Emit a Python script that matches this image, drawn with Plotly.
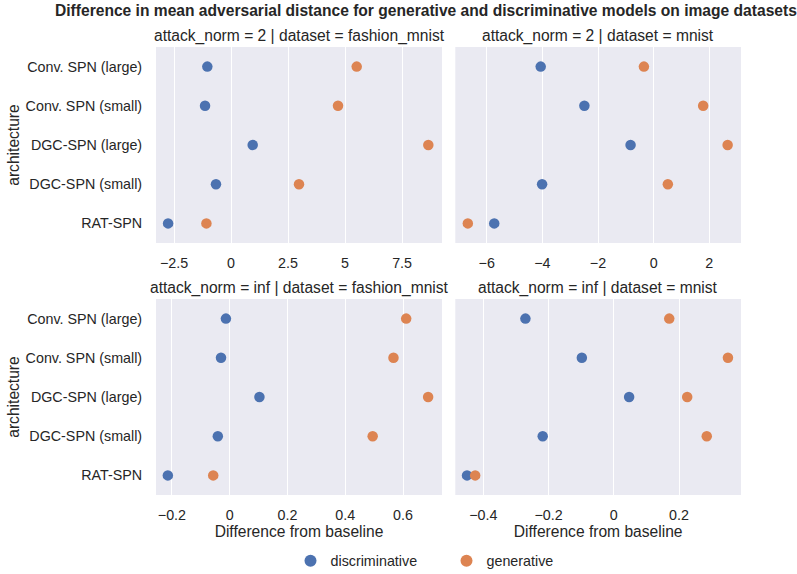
import plotly.graph_objects as go

architectures = ["Conv. SPN (large)", "Conv. SPN (small)", "DGC-SPN (large)", "DGC-SPN (small)", "RAT-SPN"]

# attack_norm = 2
disc_l2_fashion = [-1.04, -1.14, 0.95, -0.66, -2.76]
gen_l2_fashion = [5.51, 4.69, 8.65, 2.98, -1.08]
disc_l2_mnist = [-4.06, -2.49, -0.83, -4.01, -5.73]
gen_l2_mnist = [-0.35, 1.78, 2.66, 0.51, -6.68]
# attack_norm = inf
disc_inf_fashion = [-0.013, -0.030, 0.103, -0.041, -0.214]
gen_inf_fashion = [0.611, 0.567, 0.687, 0.495, -0.057]
disc_inf_mnist = [-0.271, -0.098, 0.047, -0.218, -0.450]
gen_inf_mnist = [0.170, 0.350, 0.225, 0.285, -0.425]

panel_titles = [
    "attack_norm = 2 | dataset = fashion_mnist",
    "attack_norm = 2 | dataset = mnist",
    "attack_norm = inf | dataset = fashion_mnist",
    "attack_norm = inf | dataset = mnist",
]

BLUE = "#4C72B0"
ORANGE = "#DD8452"
TXT = "#262626"
FONT = "Liberation Sans, Arial, sans-serif"
TICK = 14.3
LAB = 15.6

W, H = 797, 574
xdom = [[156 / W, 442 / W], [455.3 / W, 741 / W]]
ydom = [[1 - 243 / H, 1 - 47 / H], [1 - 495 / H, 1 - 299 / H]]

panels = [
    (disc_l2_fashion, gen_l2_fashion, [-3.29, 9.25], 2.5, 0, 0),
    (disc_l2_mnist, gen_l2_mnist, [-7.13, 3.14], 2, 0, 1),
    (disc_inf_fashion, gen_inf_fashion, [-0.255, 0.735], 0.2, 1, 0),
    (disc_inf_mnist, gen_inf_mnist, [-0.486, 0.390], 0.2, 1, 1),
]

fig = go.Figure()
layout = {}
annotations = []
for i, (d, g, xr, dt, r, c) in enumerate(panels):
    n = i + 1
    xa = "x" if n == 1 else f"x{n}"
    ya = "y" if n == 1 else f"y{n}"
    fig.add_trace(go.Scatter(
        x=d, y=architectures, mode="markers", name="discriminative",
        marker=dict(color=BLUE, size=10.5, line=dict(width=0)),
        xaxis=xa, yaxis=ya, showlegend=(n == 1), legendgroup="d"))
    fig.add_trace(go.Scatter(
        x=g, y=architectures, mode="markers", name="generative",
        marker=dict(color=ORANGE, size=10.5, line=dict(width=0)),
        xaxis=xa, yaxis=ya, showlegend=(n == 1), legendgroup="g"))
    xk = "xaxis" if n == 1 else f"xaxis{n}"
    yk = "yaxis" if n == 1 else f"yaxis{n}"
    layout[xk] = dict(
        domain=xdom[c], anchor=ya, range=xr, dtick=dt, tick0=0,
        showgrid=True, gridcolor="white", gridwidth=1.2, zeroline=False,
        showline=False, ticks="outside", ticklen=7, tickcolor="rgba(0,0,0,0)",
        tickfont=dict(size=TICK, color=TXT, family=FONT),
        title=dict(text="Difference from baseline" if r == 1 else "",
                   font=dict(size=LAB, color=TXT, family=FONT), standoff=0),
    )
    layout[yk] = dict(
        domain=ydom[r], anchor=xa, type="category",
        categoryorder="array", categoryarray=architectures[::-1],
        range=[-0.5, 4.5], showgrid=False, zeroline=False, showline=False,
        showticklabels=(c == 0), ticks="outside", ticklen=10,
        tickcolor="rgba(0,0,0,0)",
        tickfont=dict(size=TICK, color=TXT, family=FONT),
        title=dict(text="architecture" if c == 0 else "",
                   font=dict(size=LAB, color=TXT, family=FONT), standoff=2),
    )
    annotations.append(dict(
        text=panel_titles[i], xref="paper", yref="paper",
        x=(xdom[c][0] + xdom[c][1]) / 2, y=ydom[r][1],
        xanchor="center", yanchor="middle", yshift=11, showarrow=False,
        font=dict(size=LAB, color=TXT, family=FONT)))

annotations.append(dict(
    text="<b>Difference in mean adversarial distance for generative and discriminative models on image datasets</b>",
    xref="paper", yref="paper", x=426 / W, y=1 - 10.5 / H, xanchor="center",
    yanchor="middle", showarrow=False, font=dict(size=LAB, color=TXT, family=FONT)))

fig.update_layout(
    width=W, height=H, margin=dict(l=0, r=0, t=0, b=0, autoexpand=False),
    paper_bgcolor="white", plot_bgcolor="#EAEAF2",
    font=dict(family=FONT, color=TXT),
    annotations=annotations,
    legend=dict(orientation="h", x=(398.5 + 48) / W, xanchor="center", y=1 - 561 / H,
                yanchor="middle", font=dict(size=TICK, color=TXT, family=FONT),
                entrywidth=111, itemsizing="constant"),
    **layout,
)
fig.write_html("out.html", config={"displayModeBar": False},
               post_script="document.body.style.margin='0';document.body.style.padding='0';")
